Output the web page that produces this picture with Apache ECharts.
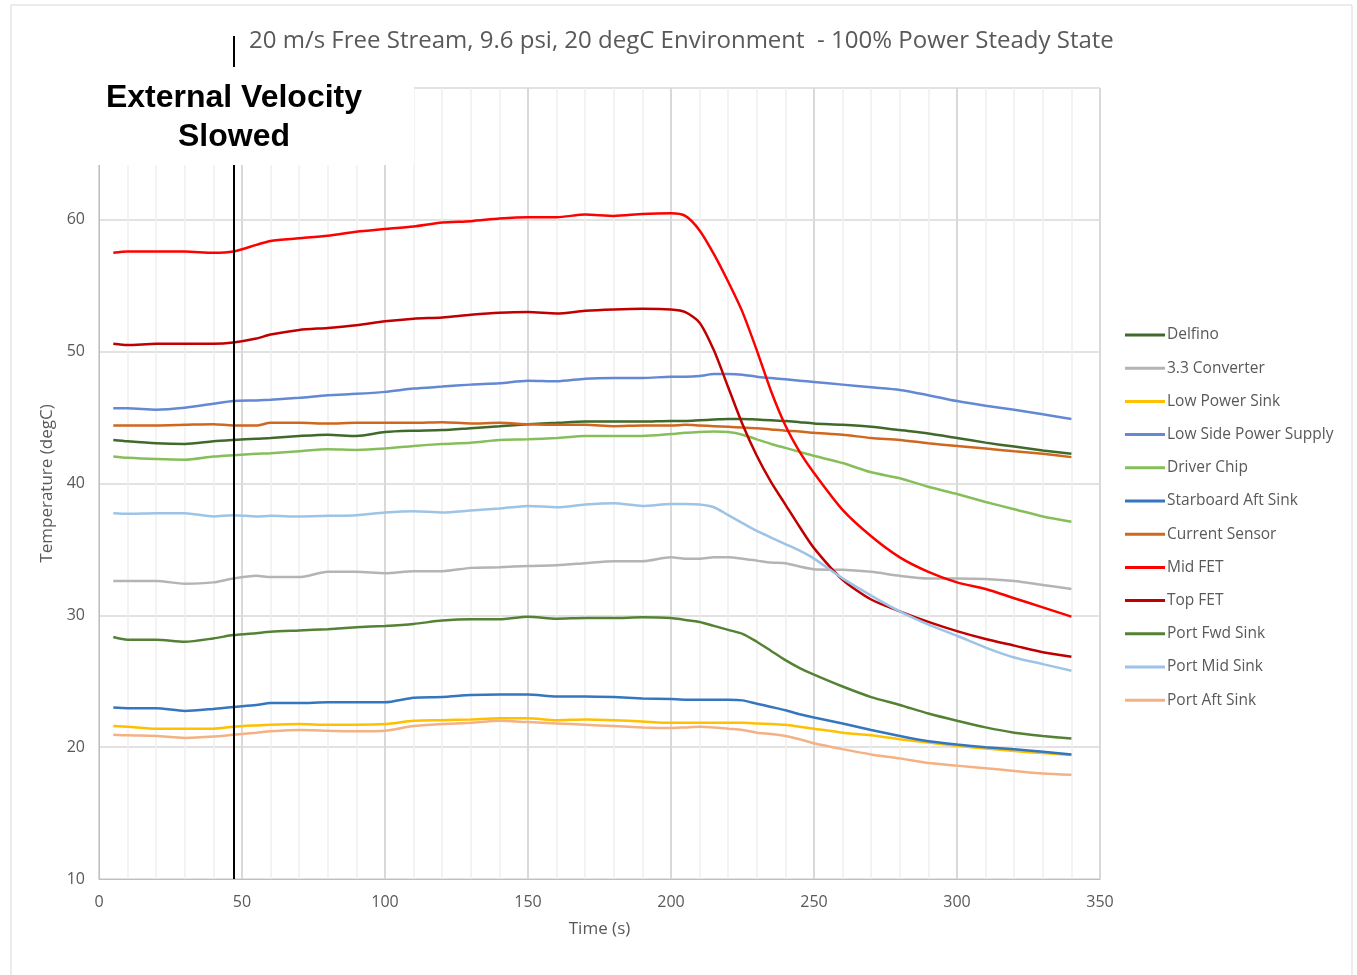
<!DOCTYPE html>
<html>
<head>
<meta charset="utf-8">
<title>Steady State Temperatures</title>
<script src="https://cdn.jsdelivr.net/npm/echarts@6/dist/echarts.min.js"></script>
<style>
    html, body { margin: 0; padding: 0; background: #fff; }
    #chart { width: 1357px; height: 975px; }
</style>
</head>
<body>
<div id="chart"></div>
<script>
// time samples (s)
var times = [5, 10, 20, 30, 40, 47, 55, 60, 70, 80, 90, 100, 110, 120, 130, 140, 150, 160, 170, 180, 190, 200,
    205, 210, 215, 220, 225, 230, 235, 240, 245, 250, 260, 270, 280, 290, 300, 310, 320, 330, 340];

// temperatures (degC), one value per time sample
var delfino = [43.3, 43.2, 43.05, 43.0, 43.2, 43.3, 43.4, 43.45, 43.6, 43.7, 43.6, 43.9, 44.0, 44.05, 44.2, 44.35, 44.5, 44.6, 44.7, 44.7, 44.7, 44.75,
    44.75, 44.8, 44.85, 44.9, 44.9, 44.85, 44.8, 44.75, 44.65, 44.55, 44.45, 44.3, 44.05, 43.8, 43.45, 43.1, 42.8, 42.5, 42.25];
var converter33 = [32.6, 32.6, 32.6, 32.4, 32.5, 32.8, 33.0, 32.9, 32.9, 33.3, 33.3, 33.2, 33.35, 33.35, 33.6, 33.65, 33.75, 33.8, 33.95, 34.1, 34.1, 34.4,
    34.3, 34.3, 34.4, 34.4, 34.3, 34.15, 34.0, 33.95, 33.7, 33.5, 33.45, 33.3, 33.0, 32.8, 32.8, 32.75, 32.6, 32.3, 32.0];
var lowPowerSink = [21.6, 21.55, 21.4, 21.4, 21.4, 21.55, 21.65, 21.7, 21.75, 21.7, 21.7, 21.75, 22.0, 22.05, 22.1, 22.2, 22.2, 22.05, 22.1, 22.05, 21.95, 21.85,
    21.85, 21.85, 21.85, 21.85, 21.85, 21.8, 21.75, 21.7, 21.55, 21.4, 21.1, 20.9, 20.6, 20.35, 20.1, 19.9, 19.7, 19.55, 19.4];
var lowSidePower = [45.7, 45.7, 45.6, 45.75, 46.05, 46.25, 46.3, 46.35, 46.5, 46.7, 46.8, 46.95, 47.2, 47.35, 47.5, 47.6, 47.8, 47.75, 47.95, 48.0, 48.0, 48.1,
    48.1, 48.15, 48.3, 48.3, 48.25, 48.1, 48.0, 47.9, 47.8, 47.7, 47.5, 47.3, 47.1, 46.7, 46.25, 45.9, 45.6, 45.25, 44.9];
var driverChip = [42.05, 41.95, 41.85, 41.8, 42.05, 42.15, 42.25, 42.3, 42.45, 42.6, 42.55, 42.65, 42.85, 43.0, 43.1, 43.3, 43.35, 43.45, 43.6, 43.6, 43.6, 43.75,
    43.85, 43.9, 43.95, 43.9, 43.7, 43.35, 43.0, 42.7, 42.4, 42.1, 41.55, 40.85, 40.4, 39.75, 39.2, 38.6, 38.05, 37.5, 37.1];
var starboardAft = [23.0, 22.95, 22.95, 22.75, 22.9, 23.05, 23.2, 23.35, 23.35, 23.4, 23.4, 23.4, 23.75, 23.8, 23.95, 24.0, 24.0, 23.85, 23.85, 23.8, 23.7, 23.65,
    23.6, 23.6, 23.6, 23.6, 23.55, 23.3, 23.05, 22.8, 22.5, 22.25, 21.8, 21.3, 20.85, 20.45, 20.2, 20.0, 19.85, 19.65, 19.45];
var currentSensor = [44.4, 44.4, 44.4, 44.45, 44.5, 44.4, 44.4, 44.6, 44.6, 44.55, 44.6, 44.6, 44.6, 44.65, 44.55, 44.6, 44.5, 44.45, 44.45, 44.35, 44.4, 44.4,
    44.45, 44.4, 44.35, 44.3, 44.25, 44.2, 44.1, 44.0, 43.95, 43.85, 43.7, 43.45, 43.3, 43.05, 42.85, 42.65, 42.45, 42.25, 42.0];
var midFet = [57.5, 57.6, 57.6, 57.6, 57.5, 57.6, 58.1, 58.4, 58.6, 58.8, 59.1, 59.3, 59.5, 59.8, 59.9, 60.1, 60.2, 60.2, 60.4, 60.3, 60.45, 60.5,
    60.3, 59.2, 57.4, 55.3, 53.0, 50.1, 47.0, 44.4, 42.4, 40.8, 38.0, 36.0, 34.4, 33.3, 32.5, 32.0, 31.3, 30.6, 29.9];
var topFet = [50.6, 50.5, 50.6, 50.6, 50.6, 50.7, 51.0, 51.3, 51.65, 51.8, 52.0, 52.3, 52.5, 52.6, 52.8, 52.95, 53.0, 52.9, 53.1, 53.2, 53.25, 53.2,
    53.0, 52.2, 50.1, 47.3, 44.5, 42.1, 40.1, 38.4, 36.7, 35.1, 32.7, 31.2, 30.3, 29.5, 28.8, 28.2, 27.7, 27.2, 26.85];
var portFwd = [28.35, 28.15, 28.15, 28.0, 28.25, 28.5, 28.65, 28.75, 28.85, 28.95, 29.1, 29.2, 29.35, 29.6, 29.7, 29.7, 29.9, 29.75, 29.8, 29.8, 29.85, 29.8,
    29.65, 29.5, 29.2, 28.9, 28.6, 28.0, 27.3, 26.6, 26.0, 25.5, 24.6, 23.8, 23.2, 22.55, 22.0, 21.5, 21.1, 20.85, 20.65];
var portMid = [37.75, 37.7, 37.75, 37.75, 37.5, 37.6, 37.5, 37.55, 37.5, 37.55, 37.6, 37.8, 37.9, 37.8, 37.95, 38.1, 38.3, 38.2, 38.4, 38.5, 38.3, 38.45,
    38.45, 38.4, 38.2, 37.6, 37.0, 36.4, 35.9, 35.4, 34.9, 34.3, 32.8, 31.5, 30.3, 29.3, 28.45, 27.55, 26.8, 26.3, 25.8];
var portAft = [20.95, 20.9, 20.85, 20.7, 20.8, 20.95, 21.1, 21.2, 21.3, 21.25, 21.2, 21.25, 21.6, 21.75, 21.85, 22.0, 21.9, 21.8, 21.7, 21.6, 21.5, 21.45,
    21.5, 21.55, 21.5, 21.4, 21.3, 21.1, 21.0, 20.85, 20.6, 20.3, 19.85, 19.45, 19.15, 18.8, 18.6, 18.4, 18.2, 18.0, 17.9];

var names = ['Delfino', '3.3 Converter', 'Low Power Sink', 'Low Side Power Supply', 'Driver Chip', 'Starboard Aft Sink',
    'Current Sensor', 'Mid FET', 'Top FET', 'Port Fwd Sink', 'Port Mid Sink', 'Port Aft Sink'];
var values = [delfino, converter33, lowPowerSink, lowSidePower, driverChip, starboardAft,
    currentSensor, midFet, topFet, portFwd, portMid, portAft];
var colors = ['#3F6A2B', '#B4B4B4', '#FFC000', '#6388D4', '#86BF5A', '#3576C0',
    '#D0671E', '#FF0000', '#C00000', '#548235', '#9DC3E6', '#F4B183'];

var xTicks = [0, 350, 50];   // min, max, step
var yTicks = [10, 70, 10];
var slowedAt = 47.2;         // when the external velocity was slowed

var titleText = '20 m/s Free Stream, 9.6 psi, 20 degC Environment  - 100% Power Steady State';
var grayText = '#595959';
var font = 'Open Sans';

var myChart = echarts.init(document.getElementById('chart'));

var series = names.map(function (name, i) {
    return {
        name: name,
        type: 'line',
        symbol: 'none',
        smooth: 0.25,
        lineStyle: { width: 2.5, color: colors[i] },
        itemStyle: { color: colors[i] },
        data: times.map(function (t, j) { return [t, values[i][j]]; })
    };
});

// vertical marker line inside the plot
series[0].markLine = {
    silent: true,
    symbol: 'none',
    label: { show: false },
    lineStyle: { color: '#000', width: 2, type: 'solid' },
    data: [{ xAxis: slowedAt }]
};

var option = {
    backgroundColor: '#fff',
    animation: false,
    title: {
        text: titleText,
        left: 244,
        top: 24,
        textStyle: { fontFamily: font, fontSize: 24, fontWeight: 'normal', color: grayText }
    },
    grid: { left: 99, top: 88, width: 1001, height: 791 },
    legend: {
        orient: 'vertical',
        left: 1125,
        top: 326,
        padding: 0,
        icon: 'rect',
        itemWidth: 40,
        itemHeight: 3,
        itemGap: 15.2,
        textStyle: { fontFamily: font, fontSize: 15.5, lineHeight: 18, color: grayText, padding: [0, 0, 0, -3] },
        data: names
    },
    xAxis: {
        type: 'value',
        min: xTicks[0],
        max: xTicks[1],
        interval: xTicks[2],
        name: 'Time (s)',
        nameLocation: 'middle',
        nameGap: 42,
        nameTextStyle: { fontFamily: font, fontSize: 17, color: grayText },
        axisLine: { show: true, lineStyle: { color: '#bfbfbf', width: 1 } },
        axisTick: { show: false },
        axisLabel: { fontFamily: font, fontSize: 16, color: grayText, margin: 15 },
        splitLine: { show: true, lineStyle: { color: '#d9d9d9', width: 2 } },
        minorTick: { show: false, splitNumber: 5 },
        minorSplitLine: { show: true, lineStyle: { color: '#efefef', width: 1.5 } }
    },
    yAxis: {
        type: 'value',
        min: yTicks[0],
        max: yTicks[1],
        interval: yTicks[2],
        name: 'Temperature (degC)',
        nameLocation: 'middle',
        nameGap: 42,
        nameTextStyle: { fontFamily: font, fontSize: 17, color: grayText },
        axisLine: { show: true, lineStyle: { color: '#bfbfbf', width: 1 } },
        axisTick: { show: false },
        axisLabel: { fontFamily: font, fontSize: 16, color: grayText, margin: 14 },
        splitLine: { show: true, lineStyle: { color: '#d9d9d9', width: 1.5 } }
    },
    series: series
};

myChart.setOption(option);

// annotation box and the bit of the marker line above it
var markX = myChart.convertToPixel({ xAxisIndex: 0 }, slowedAt);
myChart.setOption({
    graphic: [
        {
            type: 'rect',
            z: 0,
            shape: { x: 11, y: 5, width: 1341, height: 990 },
            style: { fill: 'none', stroke: '#d9d9d9', lineWidth: 1 }
        },
        {
            type: 'rect',
            z: 100,
            shape: { x: 50, y: 80, width: 364, height: 85 },
            style: { fill: '#fff' }
        },
        {
            type: 'text',
            z: 101,
            x: markX,
            y: 79,
            style: {
                text: 'External Velocity\nSlowed',
                align: 'center',
                verticalAlign: 'top',
                font: 'bold 32px "Liberation Sans", Arial, sans-serif',
                lineHeight: 39,
                fill: '#000'
            }
        },
        {
            type: 'line',
            z: 101,
            shape: { x1: markX, y1: 36, x2: markX, y2: 67 },
            style: { stroke: '#000', lineWidth: 2 }
        }
    ]
});
</script>
</body>
</html>
